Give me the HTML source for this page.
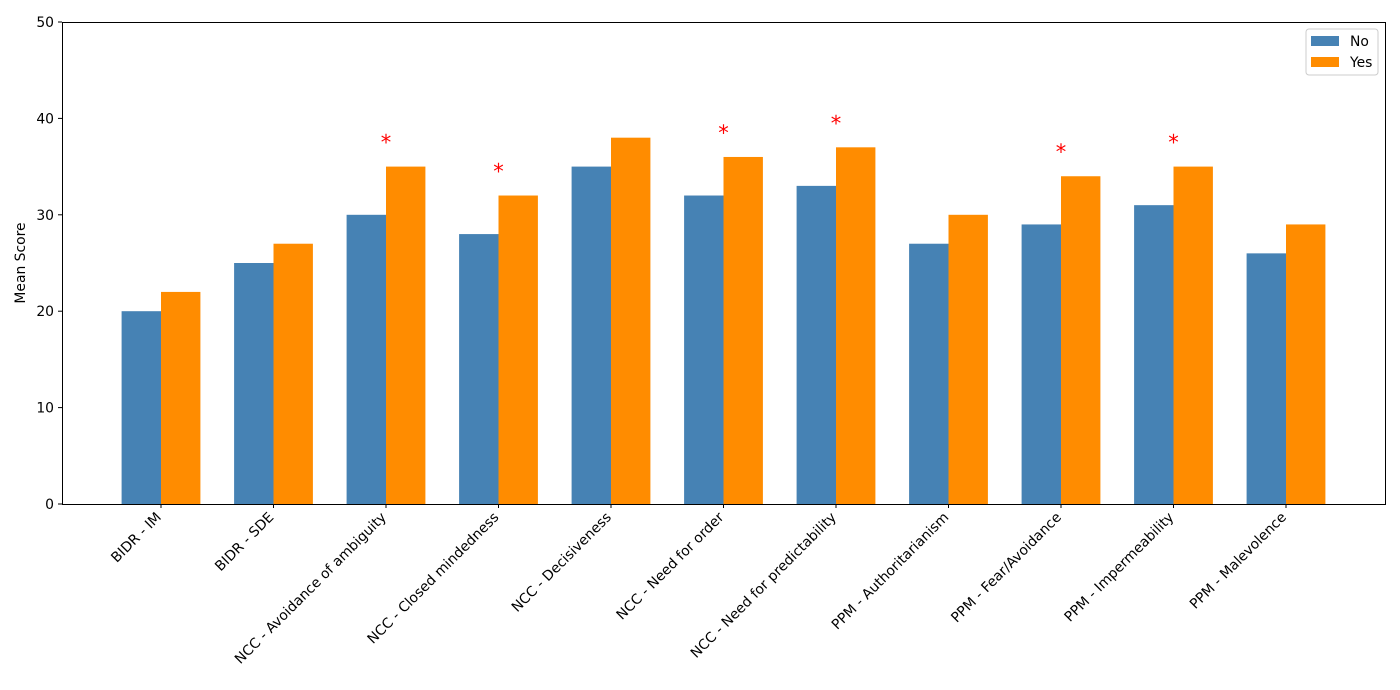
<!DOCTYPE html>
<html><head><style>body{margin:0;background:#fff}</style></head><body>
<svg width="1400" height="685" xmlns="http://www.w3.org/2000/svg" font-family="DejaVu Sans, Liberation Sans, sans-serif">
<rect width="1400" height="685" fill="#fff"/>
<g id="bars"></g>
<rect x="62.5" y="22.5" width="1323" height="482" fill="none" stroke="#000" stroke-width="1"/>
<g id="yt" font-size="13.9"></g>
<g id="xt" font-size="13.9"></g>
<text transform="translate(25,263) rotate(-90)" text-anchor="middle" font-size="13.9">Mean Score</text>
<g>
<rect x="1306" y="29" width="72" height="46" rx="3" fill="#fff" stroke="#ccc"/>
<rect x="1311" y="36" width="28" height="10" fill="#4682b4"/>
<text x="1350" y="46" font-size="13.9">No</text>
<rect x="1311" y="57" width="28" height="10" fill="#ff8c00"/>
<text x="1350" y="67" font-size="13.9">Yes</text>
</g>
</svg>
<script>
const ns="http://www.w3.org/2000/svg";
const cats=["BIDR - IM","BIDR - SDE","NCC - Avoidance of ambiguity","NCC - Closed mindedness","NCC - Decisiveness","NCC - Need for order","NCC - Need for predictability","PPM - Authoritarianism","PPM - Fear/Avoidance","PPM - Impermeability","PPM - Malevolence"];
const no=[20,25,30,28,35,32,33,27,29,31,26],yes=[22,27,35,32,38,36,37,30,34,35,29];
const star=[0,0,1,1,0,1,1,0,1,1,0];
const y=v=>504-v*9.64,w=39.4;
function el(t,a,p,txt){const e=document.createElementNS(ns,t);for(const k in a)e.setAttribute(k,a[k]);if(txt)e.textContent=txt;p.appendChild(e);return e;}
const b=document.getElementById("bars"),xt=document.getElementById("xt"),yt=document.getElementById("yt");
cats.forEach((c,i)=>{const cx=161+i*112.5;
el("rect",{x:cx-w,y:y(no[i]),width:w,height:no[i]*9.64,fill:"#4682b4"},b);
el("rect",{x:cx,y:y(yes[i]),width:w,height:yes[i]*9.64,fill:"#ff8c00"},b);
if(star[i])el("text",{x:cx,y:y(yes[i])-17,"text-anchor":"middle","font-size":"21",fill:"red"},b,"*");
el("line",{x1:cx,x2:cx,y1:504,y2:508,stroke:"#000"},xt);
el("text",{transform:`translate(${cx+1},${518}) rotate(-45)`,"text-anchor":"end"},xt,c);});
for(let v=0;v<=50;v+=10){const yy=y(v);el("line",{x1:58,x2:62,y1:yy,y2:yy,stroke:"#000"},yt);
el("text",{x:54,y:yy+5,"text-anchor":"end"},yt,String(v));}
</script>
</body></html>
